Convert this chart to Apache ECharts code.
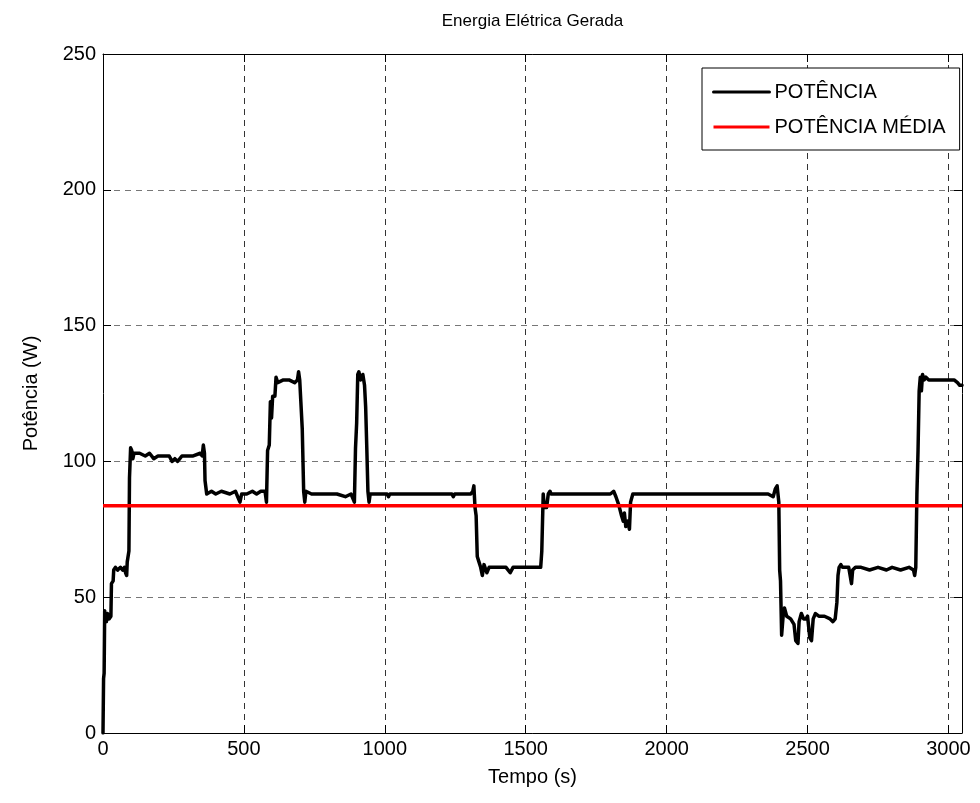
<!DOCTYPE html>
<html>
<head>
<meta charset="utf-8">
<script src="https://cdn.jsdelivr.net/npm/echarts@6/dist/echarts.min.js"></script>
<style>
  html, body { margin: 0; padding: 0; background: #fff; }
  #chart { width: 980px; height: 803px; }
</style>
</head>
<body>
<div id="chart"></div>
<script>
// Generated electrical power over time (s) and its mean value
const tempo = [
  0, 2, 4, 6, 9, 12, 16, 22, 28, 30, 36, 38, 44, 52, 62, 70, 76, 80, 84, 86, 92, 94, 98,
  102, 106, 110, 130, 150, 165, 180, 195, 215, 235, 245, 255, 265, 280, 300, 320, 345,
  352, 356, 360, 362, 368, 385, 400, 420, 450, 470, 478, 486, 492, 510, 530, 545, 560,
  575, 580, 584, 590, 594, 598, 602, 610, 614, 620, 640, 660, 680, 690, 694, 698, 702,
  707, 712, 716, 720, 740, 770, 800, 830, 860, 880, 888, 892, 896, 900, 904, 908, 914,
  922, 928, 932, 936, 940, 944, 948, 970, 1008, 1013, 1018, 1100, 1200, 1238, 1243, 1248,
  1305, 1312, 1316, 1320, 1324, 1328, 1334, 1340, 1346, 1352, 1362, 1370, 1390, 1410,
  1430, 1445, 1455, 1480, 1500, 1520, 1540, 1553, 1557, 1562, 1566, 1574, 1580, 1586,
  1590, 1700, 1800, 1812, 1820, 1830, 1840, 1846, 1850, 1855, 1862, 1868, 1872, 1880,
  2000, 2200, 2360, 2378, 2386, 2392, 2398, 2401, 2404, 2408, 2414, 2418, 2426, 2440,
  2452, 2458, 2466, 2470, 2478, 2486, 2494, 2500, 2508, 2514, 2520, 2528, 2540, 2560,
  2580, 2590, 2598, 2604, 2608, 2612, 2618, 2624, 2636, 2646, 2656, 2660, 2670, 2690,
  2720, 2750, 2780, 2800, 2830, 2860, 2876, 2880, 2884, 2888, 2892, 2896, 2900, 2904,
  2908, 2914, 2920, 2930, 2960, 2990, 3020, 3032, 3040, 3048
];
const potencia = [
  0, 20, 22, 45, 42, 41, 44, 42, 43, 55, 56, 60, 61, 60, 61, 60, 61, 59, 58, 63, 67, 94, 105,
  104, 101, 103, 103, 102, 103, 101, 102, 102, 102, 100, 101, 100, 102, 102, 102, 103,
  102, 106, 103, 93, 88, 89, 88, 89, 88, 89, 87, 85, 88, 88, 89, 88, 89,
  89, 85, 104, 106, 122, 116, 124, 124, 131, 129, 130, 130, 129, 130, 133, 130, 122,
  112, 89, 85, 89, 88, 88, 88, 88, 87, 88, 86, 85, 105, 114, 132, 133, 130,
  132, 128, 120, 105, 89, 85, 88, 88, 88, 87, 88, 88, 88, 88, 87, 88,
  88, 89, 91, 83, 80, 65, 63, 61, 58, 62, 59, 61, 61, 61,
  61, 59, 61, 61, 61, 61, 61, 61, 67, 88, 83, 83, 88, 89,
  88, 88, 88, 89, 87, 84, 80, 78, 81, 76, 78, 75, 85, 88,
  88, 88, 88, 87, 90, 91, 85, 60, 56, 36, 44, 46, 43, 42,
  40, 34, 33, 41, 44, 42, 42, 43, 35, 34, 42, 44, 43, 43,
  42, 41, 42, 48, 58, 61, 62, 61, 61, 61, 55, 60, 61, 61,
  60, 61, 60, 61, 60, 61, 60, 58, 61, 88, 104, 126, 131, 126,
  132, 130, 131, 130, 130, 130, 130, 129, 128, 128
];
const potenciaMedia = 83.7;
const tempoMax = 3048;
const xTicks = [0, 500, 1000, 1500, 2000, 2500, 3000];
const yTicks = [0, 50, 100, 150, 200, 250];

const FONT = '"Liberation Sans", Arial, sans-serif';
const serieData = tempo.map((t, i) => [t, potencia[i]]);
const mediaData = [[0, potenciaMedia], [tempoMax, potenciaMedia]];

const chart = echarts.init(document.getElementById('chart'), null, { renderer: 'canvas' });

const dash = { type: [6, 5] };
chart.setOption({
  animation: false,
  backgroundColor: '#ffffff',
  textStyle: { fontFamily: FONT, color: '#000' },
  grid: { left: 103, top: 54, right: 18, bottom: 70, containLabel: false },
  legend: {
    orient: 'vertical',
    left: 702,
    top: 68,
    width: 251,
    padding: [14, 14, 13, 10],
    itemGap: 15,
    itemWidth: 56,
    itemHeight: 20,
    backgroundColor: '#ffffff',
    borderColor: '#000000',
    borderWidth: 1,
    borderRadius: 0,
    itemStyle: { opacity: 0 },
    lineStyle: { width: 3 },
    textStyle: { fontFamily: FONT, fontSize: 20, color: '#000', padding: [0, 0, 0, 0] },
    data: ['POTÊNCIA', 'POTÊNCIA MÉDIA']
  },
  xAxis: [
    {
      type: 'value', position: 'bottom', min: 0, max: tempoMax, interval: 500,
      name: 'Tempo (s)', nameLocation: 'middle', nameGap: 34,
      nameTextStyle: { fontFamily: FONT, fontSize: 20, color: '#000' },
      axisLine: { show: true, onZero: false, lineStyle: { color: '#000', width: 1 } },
      axisTick: { show: true, inside: true, length: 8, lineStyle: { color: '#000' } },
      axisLabel: {
        fontFamily: FONT, fontSize: 20, color: '#000', margin: 6,
        formatter: v => (xTicks.includes(v) ? String(v) : '')
      },
      splitLine: { show: true, lineStyle: Object.assign({ color: '#333', width: 1 }, dash) }
    },
    {
      type: 'value', position: 'top', min: 0, max: tempoMax, interval: 500,
      name: 'Energia Elétrica Gerada', nameLocation: 'middle', nameGap: 24,
      nameTextStyle: { fontFamily: FONT, fontSize: 17, color: '#000' },
      axisLine: { show: true, onZero: false, lineStyle: { color: '#000', width: 1 } },
      axisTick: { show: true, inside: true, length: 8, lineStyle: { color: '#000' } },
      axisLabel: { show: false },
      splitLine: { show: false }
    }
  ],
  yAxis: [
    {
      type: 'value', position: 'left', min: 0, max: 250, interval: 50,
      name: 'Potência (W)', nameLocation: 'middle', nameGap: 62,
      nameTextStyle: { fontFamily: FONT, fontSize: 20, color: '#000' },
      axisLine: { show: true, onZero: false, lineStyle: { color: '#000', width: 1 } },
      axisTick: { show: true, inside: true, length: 8, lineStyle: { color: '#000' } },
      axisLabel: {
        fontFamily: FONT, fontSize: 20, color: '#000', margin: 7,
        formatter: v => (yTicks.includes(v) ? String(v) : '')
      },
      splitLine: { show: true, lineStyle: Object.assign({ color: '#777', width: 1 }, dash) }
    },
    {
      type: 'value', position: 'right', min: 0, max: 250, interval: 50,
      axisLine: { show: true, onZero: false, lineStyle: { color: '#000', width: 1 } },
      axisTick: { show: true, inside: true, length: 8, lineStyle: { color: '#000' } },
      axisLabel: { show: false },
      splitLine: { show: false }
    }
  ],
  series: [
    {
      name: 'POTÊNCIA', type: 'line', xAxisIndex: 0, yAxisIndex: 0,
      data: serieData, symbol: 'none', showSymbol: false,
      lineStyle: { color: '#000000', width: 3.5, join: 'round', cap: 'round' },
      itemStyle: { color: '#000000' },
      z: 3
    },
    {
      name: 'POTÊNCIA MÉDIA', type: 'line', xAxisIndex: 0, yAxisIndex: 0,
      data: mediaData, symbol: 'none', showSymbol: false,
      lineStyle: { color: '#ff0000', width: 3.5 },
      itemStyle: { color: '#ff0000' },
      z: 4
    }
  ]
});
</script>
</body>
</html>
